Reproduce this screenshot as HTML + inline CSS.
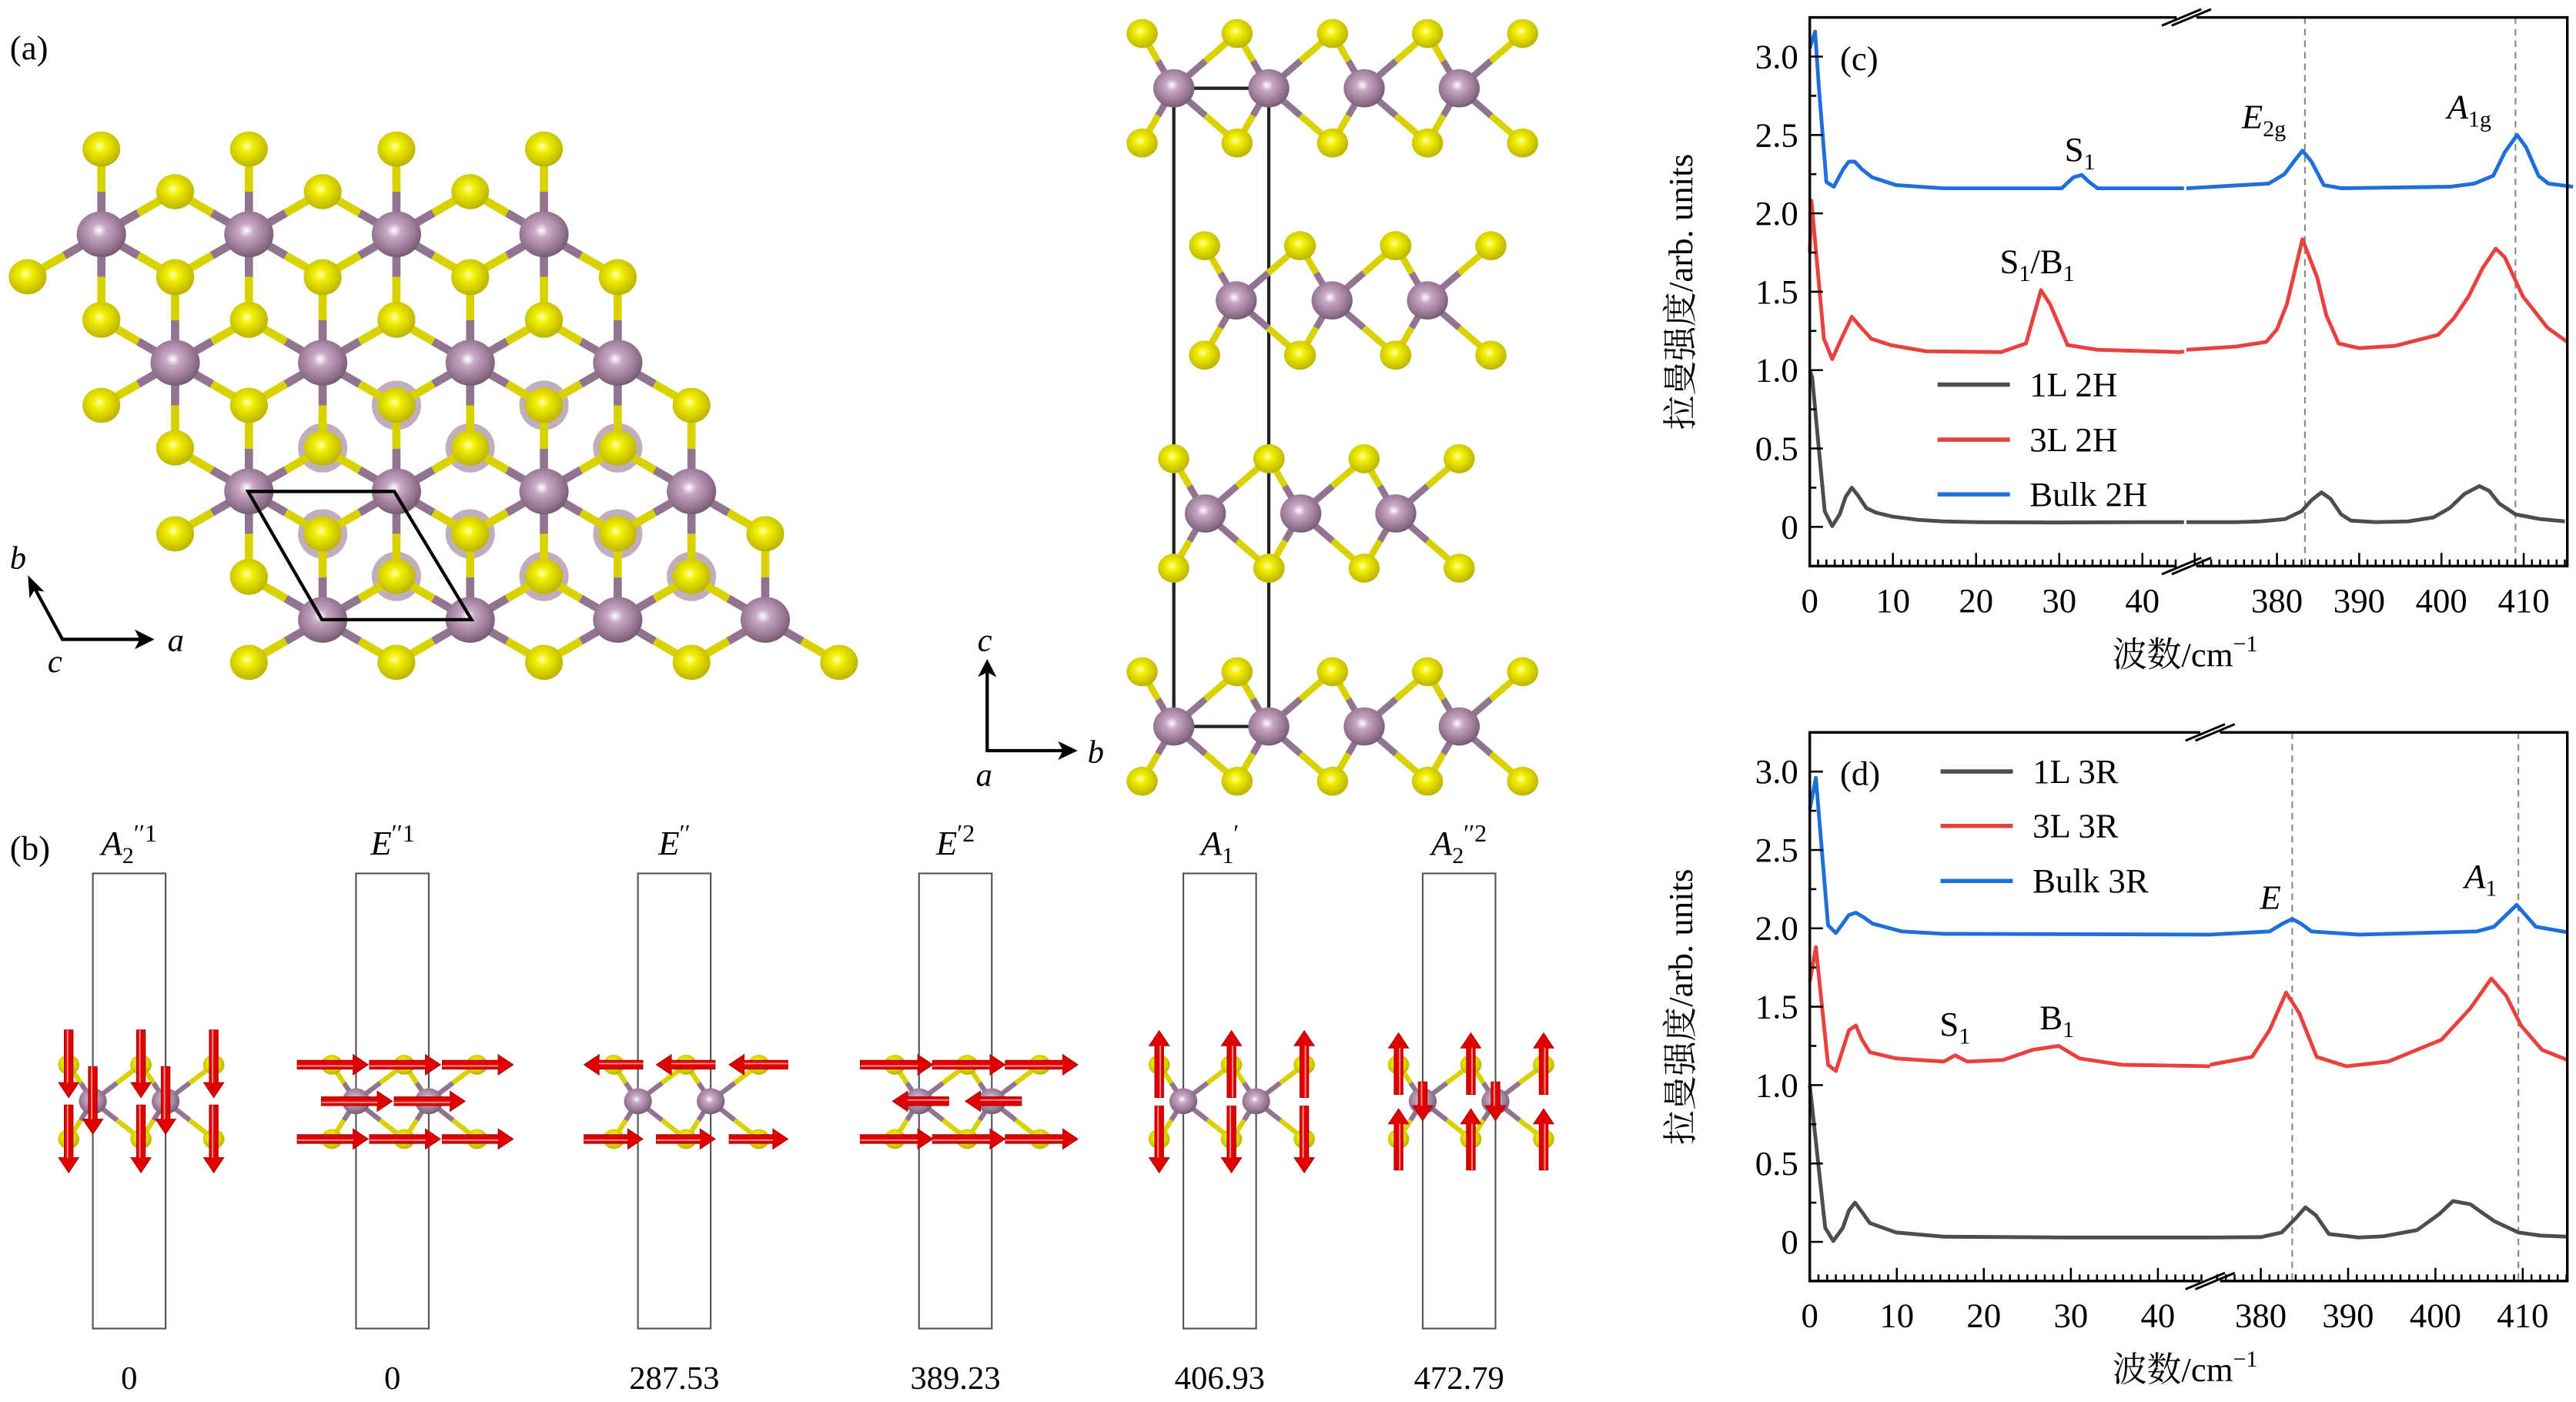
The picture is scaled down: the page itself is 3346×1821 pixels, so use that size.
<!DOCTYPE html>
<html><head><meta charset="utf-8">
<style>
html,body{margin:0;padding:0;background:#fff;}
svg{display:block;}
text{font-family:"Liberation Serif","Noto Serif CJK SC",serif;fill:#000;}
</style></head>
<body>
<svg id="fig" xmlns="http://www.w3.org/2000/svg" width="3346" height="1821" viewBox="0 0 1568 853" preserveAspectRatio="none">
<defs>
<radialGradient id="gMo" cx="0.45" cy="0.42" r="0.6"><stop offset="0" stop-color="#ffffff"/><stop offset="0.25" stop-color="#c8a8c4"/><stop offset="0.8" stop-color="#8e6f8a"/><stop offset="1" stop-color="#6f566c"/></radialGradient>
<radialGradient id="gS" cx="0.45" cy="0.42" r="0.6"><stop offset="0" stop-color="#ffffb0"/><stop offset="0.3" stop-color="#f2ee00"/><stop offset="1" stop-color="#b8b000"/></radialGradient>
</defs>
<g id="panelA"></g>
<g id="panelSide"></g>
<g id="panelB"></g>
<g id="chartC"></g>
<g id="chartD"></g>
</svg>
<script>
// ===== Chart (c) data: 2H =====
const c_x_1L = [0,0.3,1,1.8,2.7,3.6,4.3,5.05,5.8,6.8,8,10,13,16,20,30,40,45,369,375,378,381,383,384.2,385.4,386.5,387.8,389,392,396,399,401,402.8,404.6,405.8,407,409,412,415];
const c_y_1L = [1.0,0.95,0.55,0.1,0.005,0.08,0.19,0.25,0.2,0.12,0.09,0.065,0.045,0.035,0.03,0.028,0.03,0.03,0.03,0.03,0.035,0.05,0.1,0.17,0.22,0.18,0.08,0.04,0.03,0.035,0.06,0.12,0.21,0.26,0.23,0.15,0.08,0.05,0.035];
const c_x_3L = [0,0.2,1.7,2.7,3.8,5.05,6.2,7.4,9.7,14,23,26,27.8,28.9,31,34.6,44.5,45,369,375,378.7,380,381.2,383.1,384.9,386,387.5,390,394.4,399.6,401.5,403.3,405,406.6,407.7,409.9,412.9,415.3];
const c_y_3L = [1.75,2.08,1.2,1.07,1.2,1.34,1.27,1.2,1.16,1.12,1.115,1.17,1.51,1.42,1.16,1.13,1.115,1.12,1.13,1.15,1.18,1.26,1.42,1.835,1.59,1.35,1.17,1.14,1.155,1.225,1.33,1.47,1.65,1.775,1.72,1.47,1.27,1.18];
const c_x_B = [0,0.64,1.1,2,2.9,4.0,4.7,5.4,6.3,7.5,10.4,16,30.3,31.7,32.7,33.6,34.6,45,369,379,380.9,382.2,383.1,384.2,385.7,387.9,401.1,404,406.3,407.7,409.2,410.3,411.8,413,416];
const c_y_B = [3.055,3.16,2.8,2.2,2.17,2.28,2.33,2.33,2.28,2.23,2.18,2.16,2.16,2.23,2.245,2.2,2.16,2.16,2.16,2.19,2.25,2.34,2.40,2.33,2.18,2.16,2.17,2.19,2.24,2.39,2.5,2.42,2.24,2.19,2.17];
const c_dash = [383.4, 409];
// ===== Chart (d) data: 3R =====
const d_x_1L = [0,1.77,2.7,3.8,4.5,5.2,6.0,6.9,9.9,15.4,29,46,374.2,380,382.4,384,385.1,386.3,387.8,391.2,394,397.9,400.5,402,404,405.5,406.8,409.5,412,415.1];
const d_y_1L = [1.0,0.09,0.005,0.09,0.2,0.25,0.19,0.12,0.06,0.033,0.028,0.028,0.028,0.03,0.06,0.15,0.22,0.17,0.05,0.028,0.035,0.075,0.18,0.26,0.24,0.18,0.13,0.06,0.04,0.033];
const d_x_3L = [0,0.7,2.1,3,4.5,5.3,6.0,6.9,9.9,15.4,16.7,18.1,22.2,25.6,28.6,31,35.8,46,374.2,379,381,382.9,384.4,386.4,389.8,394.6,400.7,404,406.4,408.1,409.8,412.2,415.1];
const d_y_3L = [1.66,1.88,1.13,1.09,1.35,1.38,1.29,1.21,1.17,1.15,1.19,1.15,1.16,1.225,1.25,1.17,1.13,1.12,1.13,1.18,1.35,1.59,1.46,1.18,1.12,1.15,1.29,1.49,1.68,1.57,1.38,1.225,1.16];
const d_x_B = [0,0.7,2.1,3,4.5,5.3,6.2,7.2,10.6,15.4,46,374.2,381,382.5,383.6,384.6,385.8,391.2,404.7,406.7,408.2,409.3,410.4,411.5,415.1];
const d_y_B = [2.76,2.96,2.02,1.97,2.085,2.1,2.07,2.03,1.98,1.965,1.96,1.96,1.98,2.03,2.06,2.03,1.98,1.96,1.98,2.01,2.09,2.15,2.08,2.01,1.975];
const d_dash = [383.6, 409.5];
// ===== tick labels =====
const yTickVals = [0,0.5,1.0,1.5,2.0,2.5,3.0];
const yTickLabels = ["0","0.5","1.0","1.5","2.0","2.5","3.0"];
const xTicksLeft = [0,10,20,30,40];
const c_xTicksRight = [380,390,400,410];
const d_xTicksRight = [380,390,400,410];
// ===== panel b mode data =====
const modeNames = ["A2''1","E''1","E''","E'2","A1'","A2''2"];
const modeFreqs = ["0","0","287.53","389.23","406.93","472.79"];

const NS="http://www.w3.org/2000/svg";
function mk(tag, attrs, parent){const e=document.createElementNS(NS,tag);for(const k in attrs)e.setAttribute(k,attrs[k]);parent.appendChild(e);return e;}
function txt(parent, x, y, s, size, extra){const t=mk('text',{x:x,y:y,'font-size':size},parent);if(extra)for(const k in extra)t.setAttribute(k,extra[k]);t.textContent=s;return t;}

function bond(g,x1,y1,x2,y2,w){
  const mx=(x1+x2)/2,my=(y1+y2)/2;
  const a=mk('line',{x1:x1,y1:y1,x2:mx,y2:my,stroke:'#917590','stroke-width':w},g);
  
  
  const b=mk('line',{x1:mx,y1:my,x2:x2,y2:y2,stroke:'#d9d200','stroke-width':w},g);
  
  
}
function atom(g,x,y,r,kind){
  const c=mk('ellipse',{cx:x,cy:y,rx:r,ry:r*0.93,fill:kind==='Mo'?'url(#gMo)':'url(#gS)'},g);
  
  
}

// ---------- Panel (a) top view ----------
(function(){
  const g=document.getElementById('panelA');
  const lab=txt(g,6,36,'(a)',21);
  
  
  const mo=[];
  for(let i=0;i<4;i++)for(let j=0;j<4;j++)mo.push([61.7+44.9*i+89.8*j,142.5+78.2*i]);
  const offs=[[0,-51.8],[44.9,25.9],[-44.9,25.9],[0,51.8],[44.9,-25.9],[-44.9,-25.9]];
  const S={};
  const keep=(x,y)=>{
    if(y>420) return false;
    if(x<30&&y<130) return false;
    const rb=331.1+0.574*(y-142.5);
    if(x-rb>45) return false;
    return true;
  };
  const bonds=[];
  mo.forEach(p=>offs.forEach(o=>{const x=p[0]+o[0],y=p[1]+o[1];if(!keep(x,y))return;
    const k=Math.round(x)+'_'+Math.round(y);S[k]=S[k]||[x,y,0];S[k][2]++;bonds.push([p[0],p[1],x,y]);}));
  Object.values(S).forEach(s=>{
    if(s[2]>=3){
      const h=mk('circle',{cx:s[0],cy:s[1],r:15,fill:'#a58aa2',opacity:0.7},g);
      
      
    }
  });
  bonds.forEach(b=>bond(g,b[0],b[1],b[2],b[3],5));
  mo.forEach(p=>atom(g,p[0],p[1],15,'Mo'));
  Object.values(S).forEach(s=>atom(g,s[0],s[1],11.5,'S'));
  const cell=mk('polygon',{points:'151,299 240,299 287,377 196,377',fill:'none',stroke:'#000','stroke-width':2},g);
  
  
  const ax=mk('path',{d:'M19,354 L38,389 L88,389',fill:'none',stroke:'#000','stroke-width':2},g);
  
  
  const h1=mk('polygon',{points:'94,389 82,383 85,389 82,395',fill:'#000'},g);
  
  
  const h2=mk('polygon',{points:'17,350 18,364 21,359 27,360',fill:'#000'},g);
  
  
  const la=txt(g,102,396,'a',20,{'font-style':'italic'});
  
  
  const lb=txt(g,6,346,'b',20,{'font-style':'italic'});
  
  
  const lc=txt(g,29,409,'c',20,{'font-style':'italic'});
  
  
})();

// ---------- Panel (a) side view ----------
(function(){
  const g=document.getElementById('panelSide');
  const layers=[
    {y:53.7,mo:[714.5,772.3,830.4,888.2]},
    {y:182.8,mo:[752.5,810.8,868.9]},
    {y:312.4,mo:[733.7,791.8,849.6]},
    {y:442,mo:[714.5,772.3,830.4,888.2]}];
  const cell=mk('rect',{x:714.5,y:53.7,width:57.8,height:388.3,fill:'none',stroke:'#222','stroke-width':2},g);
  
  
  layers.forEach(L=>{
    const S={};
    L.mo.forEach(x=>{[x-19.3,x+38.6].forEach(sx=>{[-33.3,33.3].forEach(dy=>{bond(g,x,L.y,sx,L.y+dy,4);S[Math.round(sx)+'_'+dy]=[sx,L.y+dy];});});});
    L.mo.forEach(x=>atom(g,x,L.y,12.5,'Mo'));
    Object.values(S).forEach(s=>atom(g,s[0],s[1],9.5,'S'));
  });
  const ax=mk('path',{d:'M600.9,406 L600.9,456.7 L650,456.7',fill:'none',stroke:'#000','stroke-width':2},g);
  
  
  const h1=mk('polygon',{points:'656,456.7 644,451 647,456.7 644,462.4',fill:'#000'},g);
  
  
  const h2=mk('polygon',{points:'600.9,401 595.2,412 600.9,409 606.6,412',fill:'#000'},g);
  
  
  const lc=txt(g,595,396,'c',20,{'font-style':'italic'});
  
  
  const lb=txt(g,662,464,'b',20,{'font-style':'italic'});
  
  
  const la=txt(g,594,478,'a',20,{'font-style':'italic'});
  
  
})();

// ---------- Panel (b) ----------
(function(){
  const g=document.getElementById('panelB');
  const lab=txt(g,6,523,'(b)',21);
  
  
  const boxL=[56.5,216.7,388.3,559.4,720.3,866.0];
  const W=44.3, top=531.4, bot=808.3, yMo=670, yT=647.8, yB=693;
  function arrow(x1,y1,x2,y2){
    const dx=x2-x1,dy=y2-y1,L=Math.hypot(dx,dy),ux=dx/L,uy=dy/L,px=-uy,py=ux;
    const hl=9,hw=6,sw=2.6;
    const bx=x2-ux*hl,by=y2-uy*hl;
    const pts=[[x1+px*sw,y1+py*sw],[bx+px*sw,by+py*sw],[bx+px*hw,by+py*hw],[x2,y2],[bx-px*hw,by-py*hw],[bx-px*sw,by-py*sw],[x1-px*sw,y1-py*sw]];
    const a=mk('polygon',{points:pts.map(p=>p[0].toFixed(1)+','+p[1].toFixed(1)).join(' '),fill:'#e00000',stroke:'#b00000','stroke-width':0.6},g);
    
    
    const hlite=mk('line',{x1:x1+px*0.7,y1:y1+py*0.7,x2:bx+px*0.7,y2:by+py*0.7,stroke:'#ff9090','stroke-width':0.9},g);
    
    
  }
  boxL.forEach((x0,k)=>{
    const r=mk('rect',{x:x0,y:top,width:W,height:bot-top,fill:'none',stroke:'#555','stroke-width':1},g);
    
    
    const mos=[x0,x0+W], ss=[x0-14.7,x0+29.3,x0+73.6];
    mos.forEach(m=>[m-14.7,m+29.3].forEach(sx=>{bond(g,m,yMo,sx,yT,3);bond(g,m,yMo,sx,yB,3);}));
    mos.forEach(m=>atom(g,m,yMo,8.5,'Mo'));
    ss.forEach(sx=>{atom(g,sx,yT,6.5,'S');atom(g,sx,yB,6.5,'S');});
    if(k===0){ss.forEach(sx=>{arrow(sx,626.7,sx,667.7);arrow(sx,672.4,sx,713.4);});mos.forEach(m=>arrow(m,649,m,690));}
    if(k===1){ss.forEach(sx=>{arrow(sx-21,yT,sx+22,yT);arrow(sx-21,yB,sx+22,yB);});mos.forEach(m=>arrow(m-21,yMo,m+22,yMo));}
    if(k===2){ss.forEach(sx=>{arrow(sx+17.6,yT,sx-18,yT);arrow(sx-18,yB,sx+17.6,yB);});}
    if(k===3){ss.forEach(sx=>{arrow(sx-21,yT,sx+23,yT);arrow(sx-21,yB,sx+23,yB);});mos.forEach(m=>arrow(m+18,yMo,m-16,yMo));}
    if(k===4){ss.forEach(sx=>{arrow(sx,667.7,sx,627.2);arrow(sx,673,sx,713.4);});}
    if(k===5){ss.forEach(sx=>{arrow(sx,665.8,sx,628.6);arrow(sx,711.8,sx,674.7);});mos.forEach(m=>arrow(m,658.3,m,681.8));}
    const cx=x0+W/2;
    const f=txt(g,cx,845,modeFreqs[k],20,{'text-anchor':'middle'});
    
    
  });
  const labs=[
    [78.6,'A','2','′′1'],[239,'E','','′′1'],[410.5,'E','','′′'],[581.6,'E','','′2'],[742.6,'A','1','′'],[888.1,'A','2','′′2']];
  labs.forEach(l=>{
    const t=mk('text',{x:l[0],y:520,'font-size':21,'text-anchor':'middle'},g);
    
    
    const a=mk('tspan',{'font-style':'italic'},t);a.textContent=l[1];
    if(l[2]){const s=mk('tspan',{'font-size':14,dy:5},t);s.textContent=l[2];
      const p=mk('tspan',{'font-size':15,dy:-13},t);p.textContent=l[3];}
    else{const p=mk('tspan',{'font-size':15,dy:-8},t);p.textContent=l[3];}
  });
})();

// ---------- Charts ----------
function drawChart(gid, cfg){
  const g=document.getElementById(gid);
  const L=1101.6,R=1562.7,T=cfg.top,B=cfg.top+333.8;
  const yMin=-0.25,yMax=3.25;
  const ys=v=>B-(v-yMin)/(yMax-yMin)*(B-T);
  const xs=v=> v<=cfg.lMax ? L+v/cfg.lMax*(cfg.brk-L) : cfg.brk+(v-cfg.rMin)/(cfg.rMax-cfg.rMin)*(R-cfg.brk);
  cfg.dash.forEach(v=>{
    const d=mk('line',{x1:xs(v),x2:xs(v),y1:T,y2:B,stroke:'#888','stroke-width':1,'stroke-dasharray':'4,3'},g);
    
    
  });
  cfg.series.forEach(s=>{
    let segL='',segR='';
    s.x.forEach((xv,i)=>{
      const p=xs(xv).toFixed(2)+','+ys(s.y[i]).toFixed(2);
      if(xv<=cfg.lMax) segL+=(segL?' L':'M')+p; else segR+=(segR?' L':'M')+p;
    });
    const pth=mk('path',{d:segL+' '+segR,fill:'none',stroke:s.color,'stroke-width':2.3,'stroke-linejoin':'round'},g);
    
    
  });
  const fr=mk('rect',{x:L,y:T,width:R-L,height:B-T,fill:'none',stroke:'#000','stroke-width':1.6},g);
  
  
  [T,B].forEach(yy=>{
    const w=mk('rect',{x:cfg.brk-6,y:yy-3,width:12,height:6,fill:'#fff'},g);
    
    
    [-3,3].forEach(o=>{
      const l=mk('line',{x1:cfg.brk-12+o,y1:yy+5,x2:cfg.brk+12+o,y2:yy-5,stroke:'#000','stroke-width':1.4},g);
      
      
    });
  });
  for(let v=-0.25;v<=3.251;v+=0.25){
    const major=Math.abs(v*2-Math.round(v*2))<1e-6;
    const t=mk('line',{x1:L,x2:L+(major?8:4),y1:ys(v),y2:ys(v),stroke:'#000','stroke-width':1.2},g);
    
    
  }
  yTickVals.forEach((v,i)=>{
    const t=txt(g,L-7,ys(v)+7,yTickLabels[i],21,{'text-anchor':'end'});
    
    
  });
  for(let v=0;v<=cfg.lMax-0.5;v+=1){
    const major=v%10===0;
    const t=mk('line',{x1:xs(v),x2:xs(v),y1:B,y2:B-(major?8:4),stroke:'#000','stroke-width':1.2},g);
    
    
  }
  for(let v=Math.ceil(cfg.rMin+0.5);v<=cfg.rMax;v+=1){
    const major=v%10===0;
    const t=mk('line',{x1:xs(v),x2:xs(v),y1:B,y2:B-(major?8:4),stroke:'#000','stroke-width':1.2},g);
    
    
  }
  xTicksLeft.concat(cfg.rTicks).forEach(v=>{
    const t=txt(g,xs(v),B+28,String(v),21,{'text-anchor':'middle'});
    
    
  });
  const xt=mk('text',{x:1330,y:B+61,'font-size':21,'text-anchor':'middle'},g);
  
  
  const x1=mk('tspan',{},xt);x1.textContent='波数/cm';
  const x2=mk('tspan',{'font-size':14,dy:-9},xt);x2.textContent='−1';
  const yt=txt(g,0,0,'拉曼强度/arb. units',21,{'text-anchor':'middle',transform:'translate(1030,'+(T+167)+') rotate(-90)'});
  
  
  const pl=txt(g,1120,T+32,cfg.label,21);
  
  
  cfg.series.forEach((s,i)=>{
    const ly=cfg.legY[i];
    const ln=mk('line',{x1:cfg.legX,x2:cfg.legX+44,y1:ly,y2:ly,stroke:s.color,'stroke-width':2.6},g);
    
    
    const lt=txt(g,cfg.legX+56,ly+7,s.label,21);
    
    
  });
  cfg.ann.forEach(a=>{
    const t=mk('text',{x:a[0],y:a[1],'font-size':21,'text-anchor':'middle'},g);
    
    
    a[2].forEach(p=>{const sp=mk('tspan',p[1]?{'font-style':p[1]==='i'?'italic':'normal','font-size':p[1]==='s'?14:21,dy:p[2]||0}:{},t);sp.textContent=p[0];});
  });
}

drawChart('chartC',{top:10.6,brk:1330.9,lMax:45.3,rMin:369,rMax:415.3,rTicks:c_xTicksRight,dash:c_dash,label:'(c)',
  legX:1179.4,legY:[234,267.5,300.8],
  series:[{x:c_x_1L,y:c_y_1L,color:'#4d4d4d',name:'series-1l-2h',label:'1L 2H'},
          {x:c_x_3L,y:c_y_3L,color:'#e8413e',name:'series-3l-2h',label:'3L 2H'},
          {x:c_x_B,y:c_y_B,color:'#1f6fd8',name:'series-bulk-2h',label:'Bulk 2H'}],
  ann:[[1266,98,[['S',''],['1','s',5]]],[1378,78,[['E','i'],['2g','s',5]]],[1503,72,[['A','i'],['1g','s',5]]],[1240,166,[['S',''],['1','s',5],['/B','n',-5],['1','s',5]]]]});

drawChart('chartD',{top:445.6,brk:1345.3,lMax:46,rMin:374.2,rMax:415.1,rTicks:d_xTicksRight,dash:d_dash,label:'(d)',
  legX:1181.2,legY:[469.4,502.5,536],
  series:[{x:d_x_1L,y:d_y_1L,color:'#4d4d4d',name:'series-1l-3r',label:'1L 3R'},
          {x:d_x_3L,y:d_y_3L,color:'#e8413e',name:'series-3l-3r',label:'3L 3R'},
          {x:d_x_B,y:d_y_B,color:'#1f6fd8',name:'series-bulk-3r',label:'Bulk 3R'}],
  ann:[[1382,553,[['E','i']]],[1510,540,[['A','i'],['1','s',5]]],[1190,630,[['S',''],['1','s',5]]],[1252,626,[['B',''],['1','s',5]]]]});
</script>
</body></html>
